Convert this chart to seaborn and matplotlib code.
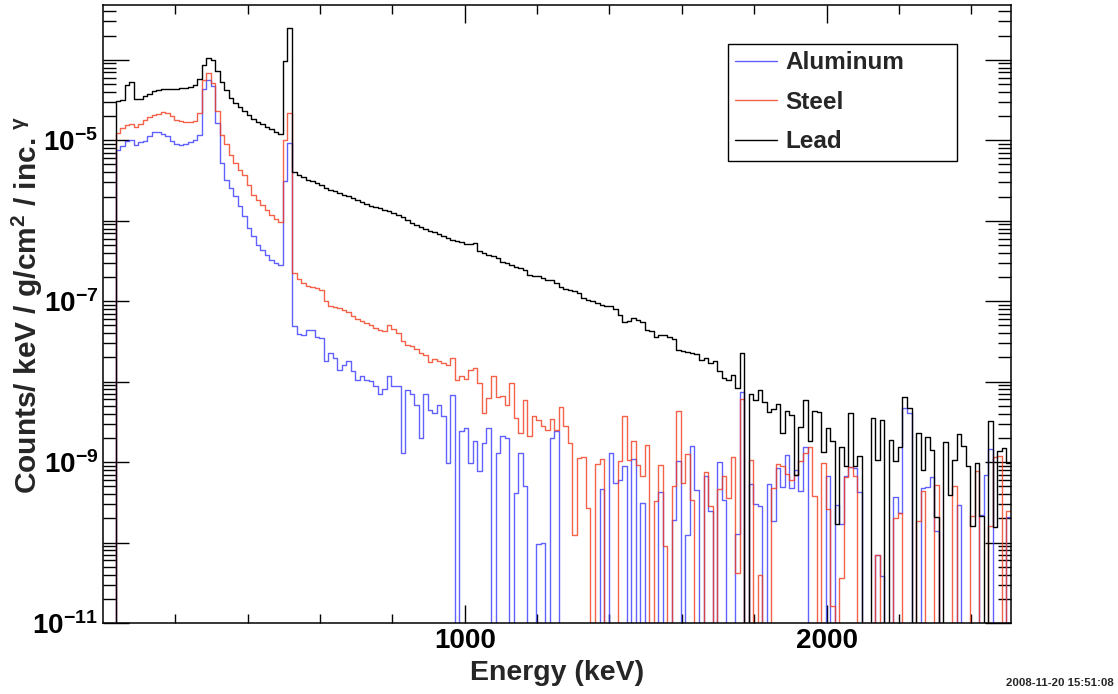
import numpy as np
import pandas as pd
import matplotlib
matplotlib.use("Agg")
import matplotlib.pyplot as plt
import seaborn as sns
from matplotlib.ticker import FixedLocator, LogLocator, FuncFormatter, NullFormatter

# Histogram binning: 200 bins of 12.5 keV covering 10 .. 2510 keV
BIN_LOW = 10.0
BIN_WIDTH = 12.5
N_BINS = 200

# log10(counts / keV / g/cm^2 / incident gamma) per bin; None marks an empty bin
aluminum_log = [
    None, None, -5.126, -5.077, -5.014, -4.994, -5.064, -5.027, -5.006, -4.952,
    -4.903, -4.903, -4.923, -4.952, -5.014, -5.043, -5.056, -5.048, -5.027, -5.002,
    -4.932, -4.364, -4.248, -4.323, -4.787, -5.284, -5.491, -5.594, -5.698, -5.822,
    -5.946, -6.091, -6.195, -6.298, -6.36, -6.422, -6.484, -6.526, -6.547, -5.511,
    -5.035, -7.312, -7.408, -7.416, -7.354, -7.354, -7.445, -7.457, -7.747, -7.644,
    -7.706, -7.85, -7.788, -7.747, -7.871, -7.975, -7.925, -7.975, -7.996, -8.058,
    -8.149, -8.091, -7.933, -8.049, -8.049, -8.886, -8.107, -8.149, -8.285, -8.699,
    -8.149, -8.347, -8.389, -8.285, -8.43, -9.01, -8.161, None, -8.617, -8.575,
    -9.01, -8.741, -9.113, -8.762, -8.575, None, -8.886, -8.679, -8.699, None,
    -9.383, -8.886, -9.3, None, None, -10.024, -10.004, None, -8.70, -8.617,
    None, None, None, None, None, None, None, None, None, -9.333,
    None, -8.886, -9.259, -9.217, -9.052, None, -8.961, None, -9.507, None,
    None, None, -9.375, None, None, -9.714, -8.981, None, -9.901, -8.803,
    -9.342, None, -9.176, -9.61, None, -8.998, -9.474, None, None, -9.888,
    -8.128, None, -9.271, -9.516, -9.54, None, -9.267, -9.735, -9.072, -9.309,
    -8.907, -9.321, -9.093, -9.362, -8.812, None, None, None, None, -9.168,
    None, -9.528, -9.764, -9.176, -9.06, -9.07, -9.375, None, None, None,
    -10.149, -10.418, None, None, -9.433, -9.631, -8.327, -8.389, None, None,
    -9.321, -9.308, -9.188, -9.859, None, None, None, None, -9.528, None,
    None, None, None, -9.652, -9.163, -8.836, None, None, None, -9.681,
]

steel_log = [
    None, None, -4.911, -4.849, -4.807, -4.795, -4.841, -4.795, -4.745, -4.712,
    -4.683, -4.671, -4.654, -4.663, -4.704, -4.745, -4.766, -4.778, -4.778, -4.766,
    -4.66, -4.248, -4.166, -4.29, -4.642, -4.932, -5.043, -5.18, -5.284, -5.366,
    -5.429, -5.553, -5.677, -5.739, -5.801, -5.863, -5.925, -5.979, -6.021, -4.994,
    -4.663, -6.65, -6.725, -6.78, -6.81, -6.82, -6.84, -6.857, -7.0, -7.055,
    -7.072, -7.089, -7.113, -7.138, -7.188, -7.221, -7.242, -7.271, -7.296, -7.329,
    -7.354, -7.366, -7.292, -7.345, -7.395, -7.499, -7.54, -7.561, -7.594, -7.643,
    -7.664, -7.759, -7.718, -7.739, -7.768, -7.788, -7.706, -7.975, -7.925, -7.967,
    -7.85, -7.83, -8.016, -8.389, -8.202, -7.933, -8.19, -8.182, -8.285, -8.016,
    -8.451, -8.637, -8.223, -8.679, -8.43, -8.472, -8.55, -8.596, -8.464, -8.596,
    -8.319, -8.555, -8.762, -9.909, -8.948, -8.94, -9.569, None, -9.019, -8.961,
    None, None, None, -8.981, -8.422, -8.969, -8.741, -9.031, -9.176, -8.783,
    None, -9.486, -9.031, -10.045, None, -9.30, -8.368, -9.259, -8.894, -9.466,
    None, None, -9.126, -9.549, None, -9.333, -9.168, -9.445, -8.936, -10.377,
    -8.211, None, -8.977, None, -10.406, None, None, -9.321, -9.018, -9.05,
    -9.143, -9.217, -9.155, -8.981, -8.886, -8.812, -9.416, None, -9.01, -9.582,
    -10.79, None, -10.44, -9.18, -9.06, -9.168, None, None, None, None,
    -10.149, None, None, None, -9.693, -9.631, None, None, None, -9.735,
    -9.362, None, None, -9.279, None, None, None, -9.292, None, None,
    None, -9.673, -9.114, None, None, -9.797, -8.936, -8.927, None, -9.611,
]

lead_log = [
    None, None, -4.518, -4.497, -4.31, -4.27, -4.49, -4.49, -4.455, -4.42,
    -4.39, -4.37, -4.364, -4.364, -4.364, -4.364, -4.356, -4.352, -4.34, -4.31,
    -4.236, -4.07, -3.98, -4.0, -4.145, -4.27, -4.38, -4.476, -4.54, -4.59,
    -4.64, -4.68, -4.73, -4.77, -4.795, -4.83, -4.857, -4.90, -4.92, -4.02,
    -3.60, -5.395, -5.43, -5.46, -5.49, -5.51, -5.53, -5.55, -5.594, -5.615,
    -5.636, -5.661, -5.681, -5.698, -5.723, -5.748, -5.768, -5.793, -5.814, -5.830,
    -5.843, -5.863, -5.876, -5.905, -5.934, -5.959, -5.996, -6.029, -6.050, -6.075,
    -6.103, -6.124, -6.145, -6.170, -6.195, -6.215, -6.236, -6.257, -6.269, -6.286,
    -6.286, -6.277, -6.381, -6.402, -6.422, -6.443, -6.464, -6.518, -6.526, -6.555,
    -6.575, -6.588, -6.617, -6.671, -6.683, -6.692, -6.712, -6.733, -6.74, -6.774,
    -6.824, -6.849, -6.866, -6.874, -6.899, -6.961, -6.981, -7.002, -7.023, -7.043,
    -7.064, -7.056, -7.097, -7.168, -7.263, -7.251, -7.209, -7.238, -7.263, -7.354,
    -7.375, -7.449, -7.416, -7.416, -7.445, -7.470, -7.602, -7.623, -7.631, -7.644,
    -7.652, -7.727, -7.706, -7.768, -7.748, -7.872, -7.954, -7.975, -7.913, -8.079,
    -7.644, None, -8.153, -8.224, -8.099, -8.253, -8.381, -8.34, -8.278, -8.638,
    -8.369, -8.41, -9.155, -8.563, -8.232, -8.741, -8.36, -8.381, -8.878, -8.576,
    -8.741, -9.764, -8.812, -9.052, -8.389, -9.052, -8.92, None, None, -8.451,
    -8.969, -8.48, None, -8.72, -8.989, -8.816, -8.194, -8.327, None, -8.638,
    -9.093, -8.691, -8.853, -9.681, None, -8.753, -9.403, -8.977, -8.65, -8.803,
    -9.052, -9.8, -9.01, -9.67, None, -8.492, -9.805, -8.857, -8.824, -9.01,
]

series_names = ["Aluminum", "Steel", "Lead"]
series_colors = ["#3a3aff", "#f23c1c", "#000000"]
series_alpha = [0.8, 0.8, 1.0]

x_ticks_major = [1000, 2000]
y_labelled_exponents = [-5, -7, -9, -11]
stamp = "2008-11-20 15:51:08"

# ---------------------------------------------------------------- style
sns.set_theme(style="white")
plt.rcParams["font.family"] = ["Liberation Sans", "DejaVu Sans"]
plt.rcParams["font.weight"] = "bold"
plt.rcParams["mathtext.fontset"] = "custom"
plt.rcParams["mathtext.rm"] = "Liberation Sans:bold"
plt.rcParams["mathtext.bf"] = "Liberation Sans:bold"
plt.rcParams["mathtext.it"] = "Liberation Sans:bold:italic"
plt.rcParams["mathtext.default"] = "bf"

W, H = 1118, 694
fig = plt.figure(figsize=(W / 100, H / 100), dpi=100)
ax = fig.add_axes([103 / W, 1 - 623 / H, (1011 - 103) / W, (623 - 5) / H])

edges = BIN_LOW + BIN_WIDTH * np.arange(N_BINS + 1)
centers = 0.5 * (edges[:-1] + edges[1:])
EMPTY = 1e-14  # empty bins fall to the bottom of the frame


def to_counts(logs):
    return np.array([EMPTY if v is None else 10.0 ** v for v in logs])


for name, logs, color, alpha in zip(series_names,
                                    [aluminum_log, steel_log, lead_log],
                                    series_colors, series_alpha):
    df = pd.DataFrame({"energy": centers, "rate": to_counts(logs)})
    sns.histplot(data=df, x="energy", weights="rate",
                 binwidth=BIN_WIDTH, binrange=(edges[0], edges[-1]),
                 element="step", fill=False, color=color, alpha=alpha,
                 linewidth=1.0, ax=ax, label=name)

ax.set_yscale("log")
ax.set_xlim(0, 2510)
ax.set_ylim(1e-11, 4.8e-4)

# ---------------------------------------------------------------- axes
for sp in ax.spines.values():
    sp.set_visible(True)
    sp.set_color("black")
    sp.set_linewidth(1.1)

ax.xaxis.set_major_locator(FixedLocator(x_ticks_major))
ax.xaxis.set_minor_locator(FixedLocator([v for v in range(200, 2501, 200)
                                         if v not in x_ticks_major]))
ax.xaxis.set_major_formatter(FuncFormatter(lambda v, p: f"{int(v)}"))

ax.yaxis.set_major_locator(LogLocator(base=10, numticks=20))
ax.yaxis.set_minor_locator(LogLocator(base=10, subs=np.arange(2, 10), numticks=100))
ax.yaxis.set_minor_formatter(NullFormatter())


def y_fmt(v, pos):
    e = int(round(np.log10(v)))
    return rf"$\mathbf{{10^{{{e}}}}}$" if e in y_labelled_exponents else ""


ax.yaxis.set_major_formatter(FuncFormatter(y_fmt))

ax.tick_params(axis="both", which="both", direction="in",
               bottom=True, left=True, top=True, right=True,
               colors="black", width=1.0)
ax.tick_params(axis="x", which="major", length=13, pad=3.5, labelsize=20)
ax.tick_params(axis="x", which="minor", length=6.5)
ax.tick_params(axis="y", which="major", length=19, pad=3.5, labelsize=20)
ax.tick_params(axis="y", which="minor", length=9.5)
for lab in ax.get_xticklabels() + ax.get_yticklabels():
    lab.set_fontweight("bold")

ax.set_xlabel("Energy (keV)", fontsize=20.5, fontweight="bold")
ax.xaxis.set_label_coords(0.5, -0.06)
ax.xaxis.label.set_va("top")
ax.set_ylabel("")
fig.text(27 / W, 1 - 305 / H, r"Counts/ keV / g/cm$^{2}$ / inc. $^{\gamma}$",
         rotation=90, ha="center", va="center", fontsize=21.5, fontweight="bold")

leg = ax.legend(loc="upper left",
                bbox_to_anchor=(728 / W, 1 - 160 / H, (957 - 728) / W, (160 - 44) / H),
                bbox_transform=fig.transFigure, mode="expand", frameon=True,
                fancybox=False, edgecolor="black", framealpha=1.0,
                prop={"size": 17.5, "weight": "bold"}, handlelength=1.7,
                handletextpad=0.35, borderpad=0.3, labelspacing=0.68,
                borderaxespad=0.0)
leg.get_frame().set_linewidth(1.0)

fig.text(1114 / W, 1 - 683 / H, stamp, ha="right", va="center",
         fontsize=8.2, fontweight="bold")

fig.savefig("out.png", dpi=100, facecolor="white")
